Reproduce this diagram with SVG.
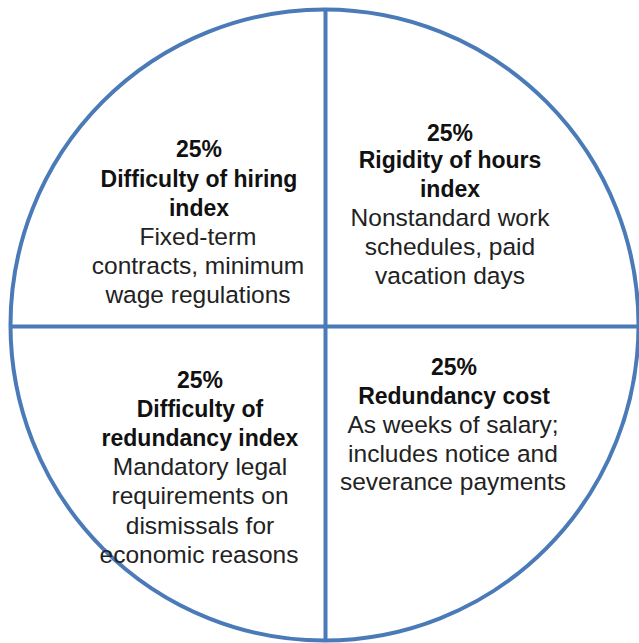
<svg xmlns="http://www.w3.org/2000/svg" width="639" height="643" viewBox="0 0 639 643">
<style>
.ln{fill:none;stroke:#4a7ab7;stroke-width:4}
text{font-family:"Liberation Sans",Arial,sans-serif;fill:#111;text-anchor:middle}
.b{font-weight:bold;font-size:23px}
.r{font-size:24.5px;fill:#222}
</style>
<rect width="639" height="643" fill="#fff"/>
<g id="connectors">
<ellipse class="ln" cx="324.5" cy="325" rx="314" ry="315.5"/>
<line class="ln" x1="325.5" y1="9" x2="325.5" y2="641"/>
<line class="ln" x1="10" y1="326.5" x2="639" y2="326.5"/>
</g>
<g id="hiring">
<text class="b" x="199" y="157">25%</text>
<text class="b" x="199" y="187">Difficulty of hiring</text>
<text class="b" x="199" y="216">index</text>
<text class="r" x="198" y="245">Fixed-term</text>
<text class="r" x="198" y="274">contracts, minimum</text>
<text class="r" x="198" y="303">wage regulations</text>
</g>
<g id="hours">
<text class="b" x="450" y="141">25%</text>
<text class="b" x="450" y="168">Rigidity of hours</text>
<text class="b" x="450" y="197">index</text>
<text class="r" x="450" y="226">Nonstandard work</text>
<text class="r" x="450" y="255">schedules, paid</text>
<text class="r" x="450" y="284">vacation days</text>
</g>
<g id="redundancy-index">
<text class="b" x="200" y="388">25%</text>
<text class="b" x="200" y="417">Difficulty of</text>
<text class="b" x="200" y="446">redundancy index</text>
<text class="r" x="200" y="475">Mandatory legal</text>
<text class="r" x="200" y="504">requirements on</text>
<text class="r" x="200" y="534">dismissals for</text>
<text class="r" x="199" y="563">economic reasons</text>
</g>
<g id="redundancy-cost">
<text class="b" x="454" y="375">25%</text>
<text class="b" x="454" y="404">Redundancy cost</text>
<text class="r" x="453" y="433">As weeks of salary;</text>
<text class="r" x="453" y="462">includes notice and</text>
<text class="r" x="453" y="490">severance payments</text>
</g>
</svg>
